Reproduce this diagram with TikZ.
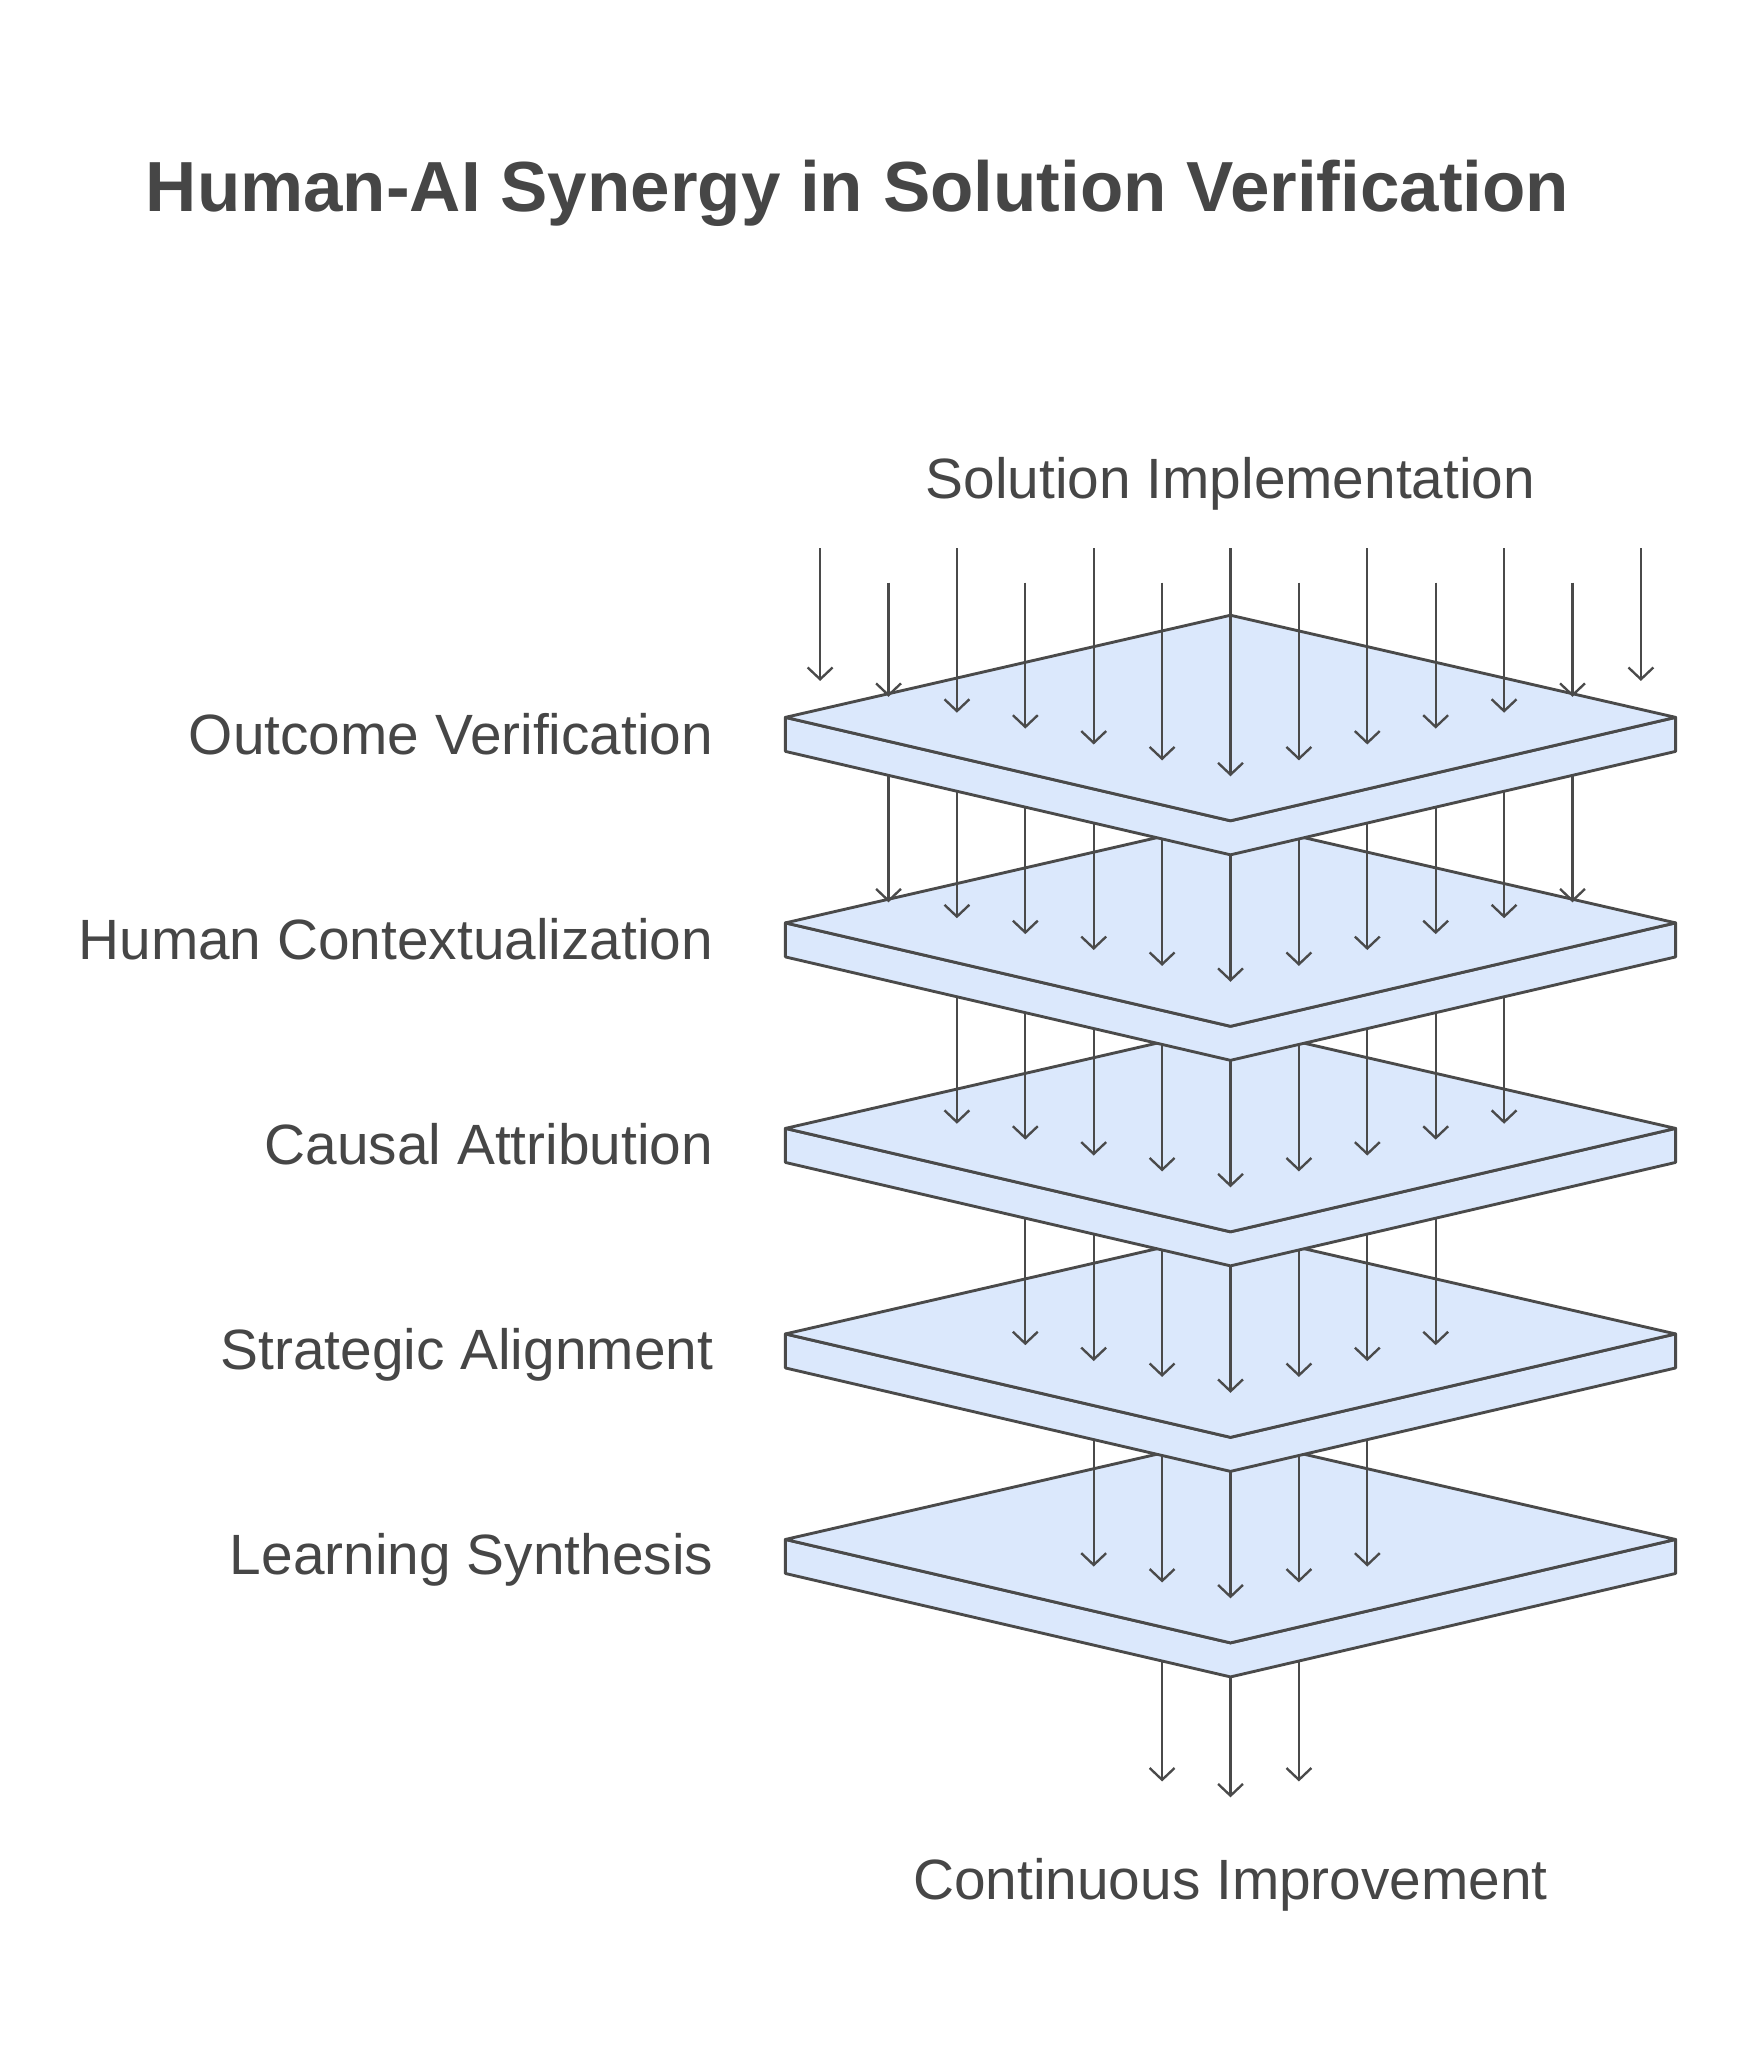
\documentclass[tikz,border=0pt]{standalone}
\usepackage{fontspec}
\setmainfont{Liberation Sans}
\usetikzlibrary{arrows.meta}
\definecolor{plateblue}{RGB}{219,232,252}
\definecolor{edgegray}{RGB}{74,74,74}
\definecolor{textgray}{RGB}{70,70,70}

\begin{document}
\begin{tikzpicture}[x=1pt,y=-1pt,>={Straight Barb[length=9pt,width=19pt]},
  plate/.style={fill=plateblue,draw=edgegray,line width=2.2pt,line join=round},
  flow/.style={->,draw=edgegray,line width=1.8pt},
  tag/.style={text=textgray,inner sep=0pt,font=\fontsize{43.4}{50}\selectfont}]
  \useasboundingbox (0,0) rectangle (1330,1564.5);

  \node[tag,anchor=base,font=\bfseries\fontsize{54.2}{60}\selectfont] (title) at (655,161.5) {Human-AI Synergy in Solution Verification};
  \node[tag,anchor=base] (impl) at (940,380.5) {Solution Implementation};
  \node[tag,anchor=base] (impr) at (940,1451) {Continuous Improvement};

  % plates from the bottom up, each with the flow below it
  \foreach \j in {5,4,3,2,1} {
    \pgfmathsetmacro{\c}{548+157*(\j-1)}
    \pgfmathsetmacro{\n}{int(6-\j)}
    \pgfmathsetmacro{\tipy}{\j<5 ? \c+202 : 1373}
    \foreach \k in {-\n,...,\n} {
      \coordinate (s\j\k) at ({940+52.25*\k},\c);
      \coordinate (e\j\k) at ({940+52.25*\k},{\tipy-12.14*abs(\k)});
      \draw[flow] (s\j\k) -- (e\j\k);
    }
    \draw[plate] (600,\c) -- (940,\c+79) -- (1280,\c) -- (1280,\c+26) -- (940,\c+105) -- (600,\c+26) -- cycle;
    \draw[plate] (600,\c) -- (940,\c-78) -- (1280,\c) -- (940,\c+79) -- cycle;
  }

  % flow into the top plate
  \foreach \k in {-6,...,6} {
    \pgfmathsetmacro{\starty}{mod(abs(\k),2)==0 ? 418.7 : 445}
    \coordinate (s0\k) at ({940+52.25*\k},\starty);
    \coordinate (e0\k) at ({940+52.25*\k},{593-12.14*abs(\k)});
    \draw[flow] (s0\k) -- (e0\k);
  }

  \foreach \name [count=\j] in {Outcome Verification,Human Contextualization,Causal Attribution,Strategic Alignment,Learning Synthesis}
    \node[tag,anchor=base east] (lay\j) at (545,{576+156.75*(\j-1)}) {\name};
\end{tikzpicture}
\end{document}
